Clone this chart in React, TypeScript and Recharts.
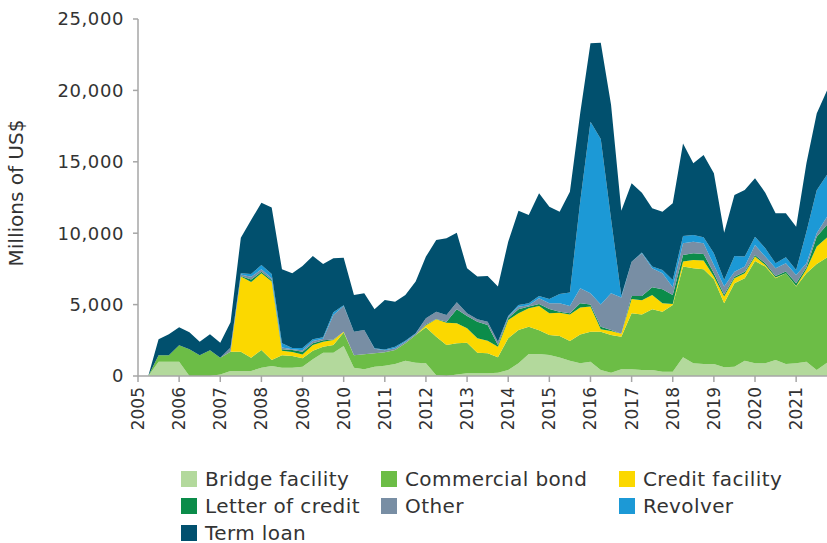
import React from 'react';
import { AreaChart, Area, XAxis, YAxis, Label } from 'recharts';

const quarters: number[] = Array.from({ length: 68 }, (_, i) => 2005 + i / 4);

const bridgeFacility = [0, 0, 1000, 1000, 1000, 0, 0, 0, 100, 350, 350, 350, 580, 700, 580, 580, 650, 1170, 1630, 1630, 2100, 580, 470, 650, 720, 840, 1070, 930, 890, 50, 0, 100, 190, 190, 190, 230, 420, 890, 1540, 1540, 1470, 1300, 1070, 900, 1000, 420, 230, 470, 470, 420, 420, 300, 300, 1310, 890, 840, 840, 610, 650, 1070, 890, 890, 1120, 840, 890, 1000, 420, 930];
const commercialBond = [0, 0, 450, 450, 1150, 1870, 1450, 1800, 1180, 1350, 1350, 930, 1240, 420, 870, 820, 590, 600, 420, 540, 950, 870, 1050, 940, 940, 980, 1220, 1940, 2520, 2700, 2170, 2190, 2140, 1440, 1400, 1080, 2220, 2330, 1910, 1660, 1400, 1500, 1380, 2000, 2100, 2680, 2640, 2280, 3920, 3880, 4250, 4200, 4670, 6350, 6650, 6630, 5930, 4480, 5840, 5770, 7170, 6770, 5720, 6350, 5370, 6190, 7420, 7370];
const creditFacility = [0, 0, 0, 0, 0, 0, 0, 0, 0, 0, 5260, 5300, 5370, 5490, 320, 280, 260, 400, 350, 350, 50, 0, 0, 0, 0, 0, 0, 0, 140, 1220, 1560, 1400, 1010, 1010, 880, 740, 1280, 1170, 1290, 1700, 1530, 1630, 1850, 1900, 1760, 170, 280, 200, 1010, 1000, 1000, 590, 70, 350, 580, 610, 190, 470, 350, 350, 300, 110, 60, 10, 40, 280, 1220, 1400];
const letterOfCredit = [0, 0, 0, 0, 0, 0, 0, 0, 0, 0, 40, 170, 110, 110, 100, 140, 200, 120, 100, 30, 0, 0, 0, 0, 0, 0, 0, 0, 50, 30, 70, 980, 860, 1160, 1100, 120, 130, 280, 120, 140, 300, 70, 100, 300, 140, 180, 70, 0, 200, 300, 540, 980, 630, 460, 470, 460, 240, 140, 110, 110, 110, 130, 100, 110, 190, 140, 700, 900];
const other = [0, 0, 0, 0, 0, 0, 0, 0, 0, 300, 100, 200, 170, 120, 130, 60, 100, 160, 100, 1720, 1800, 1650, 1700, 310, 140, 130, 110, 80, 440, 500, 470, 490, 190, 170, 230, 230, 100, 180, 90, 400, 400, 590, 500, 1040, 790, 1550, 2570, 2550, 2400, 3000, 1330, 1120, 540, 820, 820, 750, 570, 560, 350, 360, 700, 460, 540, 580, 580, 280, 230, 560];
const revolver = [0, 0, 0, 0, 0, 0, 0, 0, 0, 0, 90, 190, 300, 300, 290, 80, 160, 120, 110, 190, 50, 0, 0, 40, 50, 100, 70, 40, 0, 0, 0, 0, 0, 0, 0, 0, 50, 120, 140, 160, 300, 650, 940, 6060, 12020, 11600, 5210, 100, 0, 40, 120, 230, 510, 510, 460, 420, 820, 460, 1100, 700, 590, 580, 350, 420, 350, 2210, 3010, 2940];
const termLoan = [0, 0, 1120, 1470, 1260, 1190, 950, 1120, 1050, 1760, 2500, 3780, 4370, 4660, 5180, 5230, 5740, 5830, 5130, 3780, 3330, 2570, 2570, 2730, 3470, 3150, 3200, 3620, 4320, 5020, 5370, 4880, 3150, 2990, 3200, 3860, 5210, 6610, 6180, 7190, 6460, 5770, 7070, 6200, 5490, 6740, 8000, 5980, 5490, 4200, 4080, 4090, 5370, 6490, 5020, 5770, 5600, 3320, 4280, 4670, 4080, 3900, 3500, 3080, 3040, 4800, 5390, 5900];

const yearTicks = [2005, 2006, 2007, 2008, 2009, 2010, 2011, 2012, 2013, 2014, 2015, 2016, 2017, 2018, 2019, 2020, 2021];
const valueTicks = [0, 5000, 10000, 15000, 20000, 25000];

const series = [
  { key: 'bridge', name: 'Bridge facility', color: '#b3d99c', values: bridgeFacility },
  { key: 'bond', name: 'Commercial bond', color: '#6cbd46', values: commercialBond },
  { key: 'credit', name: 'Credit facility', color: '#fbd800', values: creditFacility },
  { key: 'loc', name: 'Letter of credit', color: '#0b8c4a', values: letterOfCredit },
  { key: 'other', name: 'Other', color: '#788ea4', values: other },
  { key: 'revolver', name: 'Revolver', color: '#1c99d6', values: revolver },
  { key: 'term', name: 'Term loan', color: '#01506e', values: termLoan },
];

const data = quarters.map((q, i) => {
  const row: Record<string, number> = { q };
  series.forEach((s) => {
    row[s.key] = s.values[i];
  });
  return row;
});

const FONT = '"DejaVu Sans", sans-serif';
const TEXT = '#333333';
const AXIS = '#a6a6a6';

const XTick = (props: any) => {
  const { x, y, payload } = props;
  return (
    <text
      x={x}
      y={y}
      transform={`rotate(-90 ${x} ${y})`}
      textAnchor="end"
      dominantBaseline="central"
      fontFamily={FONT}
      fontSize={17}
      fill={TEXT}
    >
      {payload.value}
    </text>
  );
};

const legendRows = [
  [series[0], series[1], series[2]],
  [series[3], series[4], series[5]],
  [series[6]],
];
const colLeft = [181, 381, 619];
const rowCenter = [479, 506, 532.5];

export default function App() {
  return (
    <div style={{ position: 'absolute', left: 0, top: 0, width: 827, height: 543, background: '#fff' }}>
      <AreaChart
        width={827}
        height={543}
        data={data}
        margin={{ top: 19, right: 0, bottom: 0, left: 0 }}
      >
        <XAxis
          dataKey="q"
          type="number"
          domain={[2005, 2021.75]}
          ticks={yearTicks}
          height={167}
          tickSize={6}
          tickMargin={5}
          interval={0}
          tick={<XTick />}
          axisLine={{ stroke: AXIS, strokeWidth: 1.5 }}
          tickLine={{ stroke: AXIS, strokeWidth: 1.5 }}
        />
        <YAxis
          type="number"
          domain={[0, 25000]}
          ticks={valueTicks}
          width={138}
          tickSize={5}
          tickMargin={9}
          tickFormatter={(v: number) => v.toLocaleString('en-US')}
          tick={{ fontFamily: FONT, fontSize: 18, fill: TEXT, letterSpacing: 0.6 }}
          axisLine={{ stroke: AXIS, strokeWidth: 1.5 }}
          tickLine={{ stroke: AXIS, strokeWidth: 1.5 }}
        >
          <Label
            content={() => (
              <text
                x={16}
                y={193}
                transform="rotate(-90 16 193)"
                textAnchor="middle"
                dominantBaseline="central"
                fontFamily={FONT}
                fontSize={20}
                fill={TEXT}
              >
                Millions of US$
              </text>
            )}
          />
        </YAxis>
        {series.map((s) => (
          <Area
            key={s.key}
            type="linear"
            dataKey={s.key}
            name={s.name}
            stackId="1"
            stroke="none"
            fill={s.color}
            fillOpacity={1}
            isAnimationActive={false}
          />
        ))}
      </AreaChart>
      {legendRows.map((row, r) =>
        row.map((s, c) => (
          <div
            key={s.key}
            style={{
              position: 'absolute',
              left: colLeft[c],
              top: rowCenter[r] - 13,
              height: 26,
              display: 'flex',
              alignItems: 'center',
              fontFamily: FONT,
              fontSize: 20,
              letterSpacing: 0.4,
              color: TEXT,
              whiteSpace: 'nowrap',
            }}
          >
            <span style={{ display: 'inline-block', width: 16, height: 16, background: s.color, marginRight: 8, flex: 'none' }} />
            {s.name}
          </div>
        ))
      )}
    </div>
  );
}
